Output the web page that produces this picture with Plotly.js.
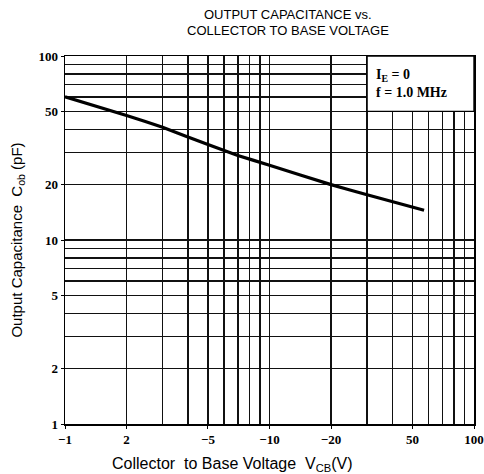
<!DOCTYPE html>
<html>
<head>
<meta charset="utf-8">
<script src="https://cdn.plot.ly/plotly-3.0.1.min.js"></script>
<style>html,body{margin:0;padding:0;background:#fff}#chart{width:484px;height:474px}</style>
</head>
<body>
<div id="chart"></div>
<script>
// Curve: Output capacitance Cob (pF) vs collector-to-base voltage VCB (V)
var vcb = [1, 2, 3, 5, 7, 10, 20, 30, 57];
var cob = [60, 47.5, 41, 33, 28.8, 25.5, 20, 17.6, 14.5];

// Labelled ticks and extra grid lines
var xTickVals = [1, 2, 5, 10, 20, 50, 100];
var xTickText = ['\u22121', '2', '\u22125', '\u221210', '\u221220', '50', '100'];
var xMinorVals = [3, 4, 6, 7, 8, 9, 30, 40, 60, 70, 80, 90];
var yTickVals = [1, 2, 5, 10, 20, 50, 100];
var yTickText = ['1', '2', '5', '10', '20', '50', '100'];
var yMinorVals = [3, 4, 6, 7, 8, 9, 30, 40, 60, 70, 80, 90];

var tickFont = {family: 'Liberation Serif, DejaVu Serif, serif', size: 13, color: '#000', weight: 'bold'};
var gridColor = '#111';

var data = [{
  x: vcb, y: cob, type: 'scatter', mode: 'lines',
  line: {color: '#000', width: 3.2, shape: 'spline', smoothing: 0.3},
  hoverinfo: 'skip'
}];

function axis(tv, tt, mv) {
  return {
    type: 'log', range: [0, 2],
    tickmode: 'array', tickvals: tv, ticktext: tt,
    tickfont: tickFont, tickangle: 0,
    ticks: 'outside', ticklen: 3, tickcolor: '#000',
    showgrid: true, gridcolor: gridColor, gridwidth: 1.4,
    minor: {tickmode: 'array', tickvals: mv, showgrid: true, gridcolor: gridColor, gridwidth: 1.4, ticks: ''},
    showline: true, linecolor: '#000', linewidth: 1.5, mirror: true,
    zeroline: false, fixedrange: true
  };
}

var xa = axis(xTickVals, xTickText, xMinorVals);
var ya = axis(yTickVals, yTickText, yMinorVals);
ya.title = {text: 'Output Capacitance  C<sub>ob</sub> (pF)', standoff: 12,
            font: {family: 'Liberation Sans, Arial, sans-serif', size: 15, color: '#000'}};

var layout = {
  width: 484, height: 474,
  margin: {l: 65, r: 10, t: 56, b: 50},
  paper_bgcolor: '#fff', plot_bgcolor: '#fff',
  showlegend: false,
  xaxis: xa,
  yaxis: ya,
  shapes: [{
    type: 'rect', xref: 'x', yref: 'y', layer: 'above',
    x0: 30, x1: 100, y0: 50, y1: 100,
    fillcolor: '#fff', line: {color: '#000', width: 1.4}
  }],
  annotations: [
    {xref: 'paper', yref: 'paper', x: 0.545, y: 1.113, xanchor: 'center', yanchor: 'middle',
     showarrow: false, text: 'OUTPUT CAPACITANCE vs.',
     font: {family: 'Liberation Sans, Arial, sans-serif', size: 13, color: '#000'}},
    {xref: 'paper', yref: 'paper', x: 0.545, y: 1.068, xanchor: 'center', yanchor: 'middle',
     showarrow: false, text: 'COLLECTOR TO BASE VOLTAGE',
     font: {family: 'Liberation Sans, Arial, sans-serif', size: 13, color: '#000'}},
    {xref: 'paper', yref: 'paper', x: 0.755, y: 0.975, xanchor: 'left', yanchor: 'top',
     align: 'left', showarrow: false,
     text: 'I<sub>E</sub> = 0<br>f = 1.0 MHz',
     font: {family: 'Liberation Serif, DejaVu Serif, serif', size: 14, color: '#000', weight: 'bold'}},
    {xref: 'paper', yref: 'paper', x: 0.41, y: -0.08, xanchor: 'center', yanchor: 'top',
     showarrow: false,
     text: 'Collector  to Base Voltage  V<sub>CB</sub>(V)',
     font: {family: 'Liberation Sans, Arial, sans-serif', size: 16, color: '#000'}}
  ]
};

Plotly.newPlot('chart', data, layout, {staticPlot: true, displayModeBar: false});
</script>
</body>
</html>
